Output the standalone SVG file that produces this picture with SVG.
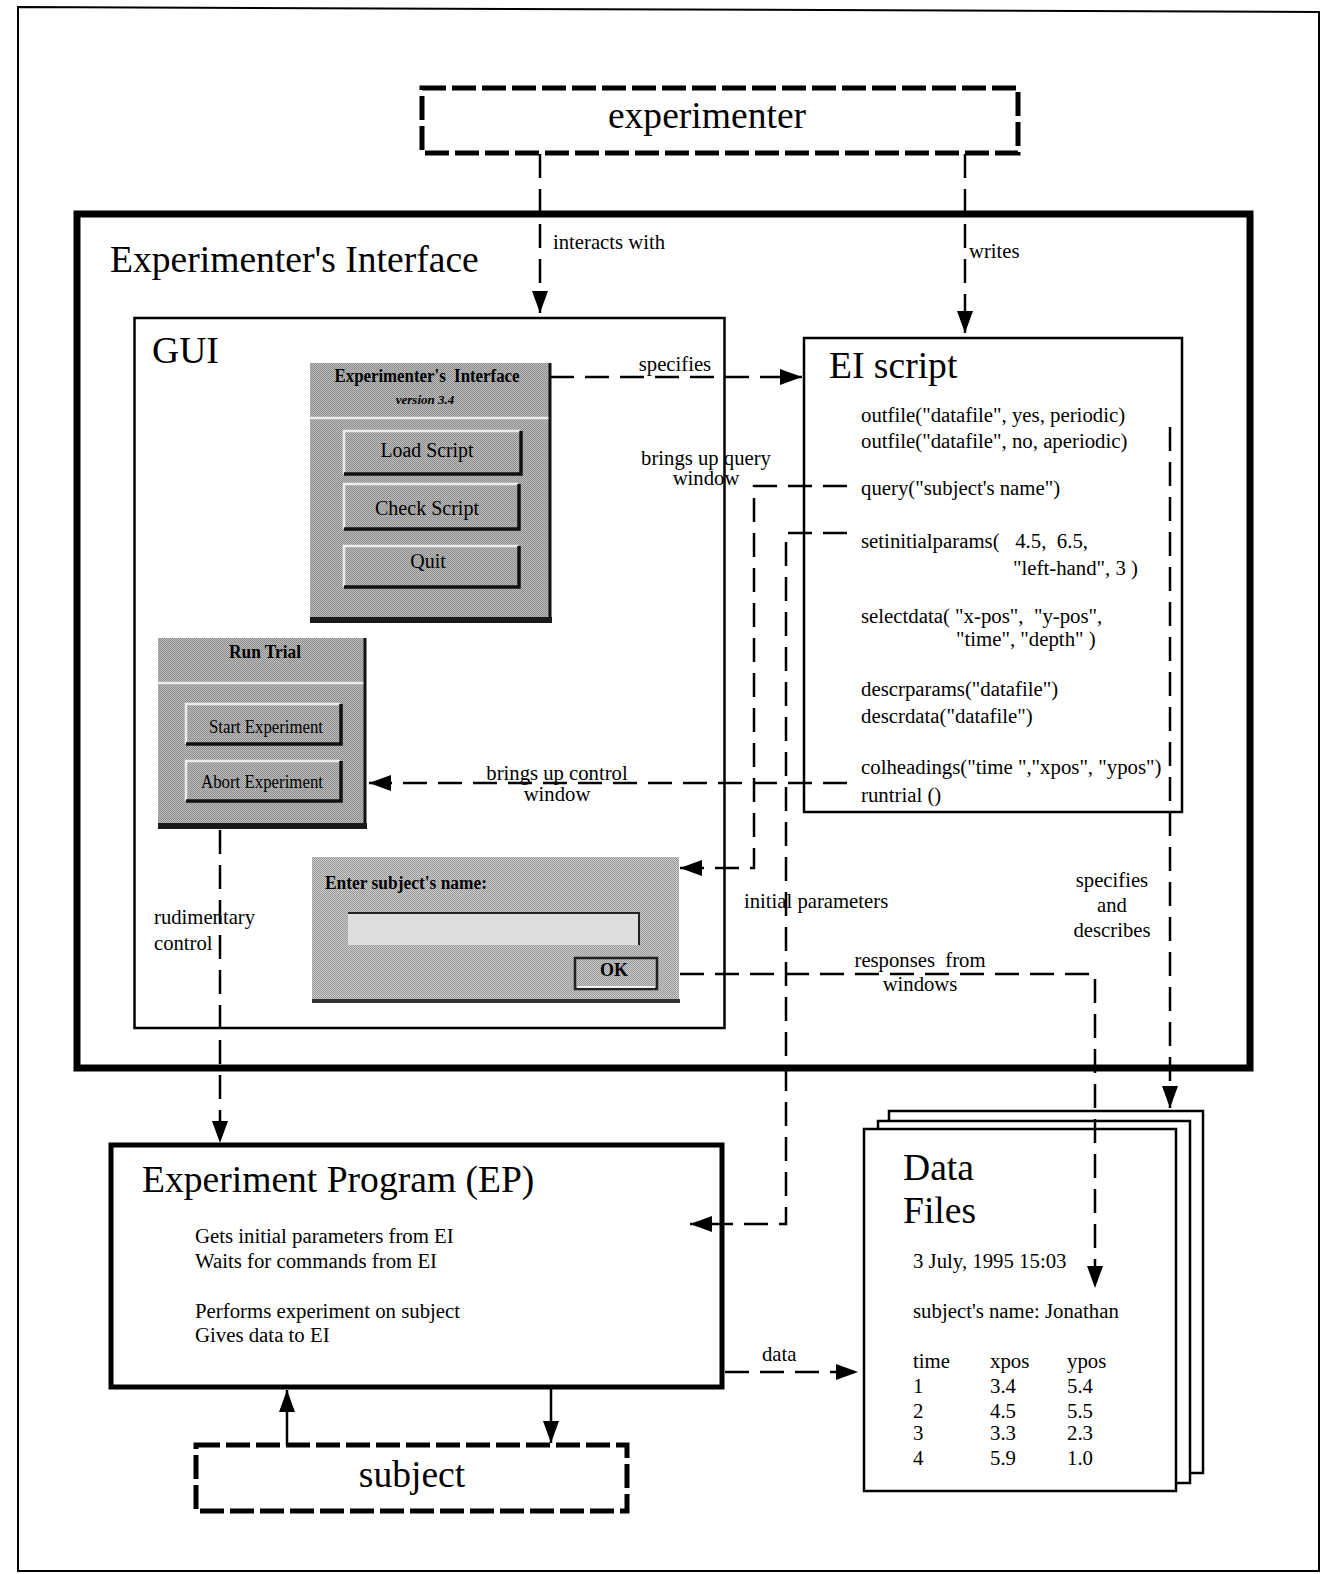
<svg xmlns="http://www.w3.org/2000/svg" width="1325" height="1574" viewBox="0 0 1325 1574">
<defs>
<style>
.t{font-family:"Liberation Serif","Times New Roman",serif;fill:#000}
.title{font-size:37.6px}
.lbl{font-size:20.7px}
.code{font-size:20.8px}
.wb{font-weight:bold}
.dash{fill:none;stroke:#000;stroke-width:2.5;stroke-dasharray:24 11}
.solid{fill:none;stroke:#000;stroke-width:2.5}
.box{fill:#fff;stroke:#000;stroke-width:2.5}
.thick{fill:none;stroke:#000;stroke-width:7}
.ep{fill:#fff;stroke:#000;stroke-width:5}
.actor{fill:#fff;stroke:#000;stroke-width:5;stroke-dasharray:24 6}
.win{fill:url(#dither)}
.winl{fill:url(#ditherL)}
.hl{stroke:#ececec;stroke-width:2.5;fill:none}
.sh{stroke:#111;stroke-width:3.5;fill:none}
</style>
<pattern id="dither" width="2" height="2" patternUnits="userSpaceOnUse">
<rect width="2" height="2" fill="#bdbdbd"/><rect width="1" height="1" fill="#8c8c8c"/><rect x="1" y="1" width="1" height="1" fill="#8c8c8c"/>
</pattern>
<pattern id="ditherL" width="2" height="2" patternUnits="userSpaceOnUse">
<rect width="2" height="2" fill="#c9c9c9"/><rect width="1" height="1" fill="#9a9a9a"/><rect x="1" y="1" width="1" height="1" fill="#9a9a9a"/>
</pattern>
<marker id="ah" markerUnits="userSpaceOnUse" markerWidth="22" markerHeight="16" refX="22" refY="8" orient="auto">
<path d="M0,0 L22,8 L0,16 Z" fill="#000"/>
</marker>
</defs>
<rect width="1325" height="1574" fill="#fff"/>
<path d="M18,7 L1319,12 L1319,1571 L18,1571 Z" fill="none" stroke="#000" stroke-width="2"/>

<g id="experimenter">
<rect class="actor" x="422" y="88" width="596" height="65"/>
<text class="t title" x="707" y="128" text-anchor="middle">experimenter</text>
</g>

<g id="experimenters-interface">
<rect class="thick" x="77" y="214" width="1173" height="854"/>
<text class="t title" x="110" y="272">Experimenter's Interface</text>
</g>

<g id="gui">
<rect class="box" x="134.5" y="318" width="590" height="710"/>
<text class="t title" x="152" y="363">GUI</text>
</g>

<g id="ei-window">
<rect class="win" x="310" y="363" width="240" height="258"/>
<line class="hl" x1="310" y1="418" x2="549" y2="418"/>
<line x1="550" y1="363" x2="550" y2="623" stroke="#111" stroke-width="3"/>
<rect x="310" y="617" width="242" height="6" fill="#1a1a1a"/>
<text class="t wb" x="427" y="382" font-size="18.5" text-anchor="middle" textLength="185" lengthAdjust="spacingAndGlyphs" xml:space="preserve">Experimenter's  Interface</text>
<text class="t" x="425" y="404" font-size="13" font-style="italic" font-weight="bold" text-anchor="middle">version 3.4</text>
<g id="btn-load">
<path class="hl" d="M344,474 V431 H520"/>
<path class="sh" d="M344,474 H521 V431"/>
<text class="t" x="427" y="457" font-size="20" text-anchor="middle" textLength="93" lengthAdjust="spacingAndGlyphs">Load Script</text>
</g>
<g id="btn-check">
<path class="hl" d="M344,529 V484 H518"/>
<path class="sh" d="M344,529 H519 V484"/>
<text class="t" x="427" y="515" font-size="20" text-anchor="middle" textLength="104" lengthAdjust="spacingAndGlyphs">Check Script</text>
</g>
<g id="btn-quit">
<path class="hl" d="M344,587 V546 H518"/>
<path class="sh" d="M344,587 H519 V546"/>
<text class="t" x="428" y="568" font-size="20" text-anchor="middle">Quit</text>
</g>
</g>

<g id="run-trial-window">
<rect class="win" x="158" y="638" width="208" height="190"/>
<line class="hl" x1="158" y1="683" x2="364" y2="683"/>
<line x1="365" y1="638" x2="365" y2="829" stroke="#111" stroke-width="3"/>
<rect x="158" y="823" width="209" height="6" fill="#1a1a1a"/>
<text class="t wb" x="265" y="658" font-size="18" text-anchor="middle" textLength="72" lengthAdjust="spacingAndGlyphs">Run Trial</text>
<g id="btn-start">
<path class="hl" d="M186,744 V704 H340"/>
<path class="sh" d="M186,744 H341 V704"/>
<text class="t" x="266" y="733" font-size="19" text-anchor="middle" textLength="114" lengthAdjust="spacingAndGlyphs">Start Experiment</text>
</g>
<g id="btn-abort">
<path class="hl" d="M186,801 V761 H340"/>
<path class="sh" d="M186,801 H341 V761"/>
<text class="t" x="262" y="788" font-size="19" text-anchor="middle" textLength="122" lengthAdjust="spacingAndGlyphs">Abort Experiment</text>
</g>
</g>

<g id="query-window">
<rect class="winl" x="312" y="857" width="367" height="146"/>
<rect x="312" y="999" width="368" height="4" fill="#333"/>
<text class="t wb" x="325" y="889" font-size="18" textLength="162" lengthAdjust="spacingAndGlyphs">Enter subject's name:</text>
<rect x="348" y="912" width="292" height="33" fill="#dedede"/>
<path d="M348,913 H639 V945" fill="none" stroke="#222" stroke-width="2"/>
<rect x="575" y="958" width="82" height="31" fill="none" stroke="#222" stroke-width="2.5"/>
<path d="M577,987 H655" stroke="#eee" stroke-width="2" fill="none"/>
<text class="t wb" x="614" y="976" font-size="18" text-anchor="middle">OK</text>
</g>

<g id="ei-script">
<rect class="box" x="804" y="338" width="378" height="474"/>
<text class="t title" x="829" y="378">EI script</text>
<g class="t code">
<text x="861" y="422">outfile("datafile", yes, periodic)</text>
<text x="861" y="448">outfile("datafile", no, aperiodic)</text>
<text x="861" y="495">query("subject's name")</text>
<text x="861" y="548" xml:space="preserve">setinitialparams(   4.5,  6.5,</text>
<text x="1013" y="575">"left-hand", 3 )</text>
<text x="861" y="623" xml:space="preserve">selectdata( "x-pos",  "y-pos",</text>
<text x="956" y="646">"time", "depth" )</text>
<text x="861" y="696">descrparams("datafile")</text>
<text x="861" y="723">descrdata("datafile")</text>
<text x="861" y="774">colheadings("time ","xpos", "ypos")</text>
<text x="861" y="802">runtrial ()</text>
</g>
</g>

<g id="experiment-program">
<rect class="ep" x="111" y="1145" width="611" height="242"/>
<text class="t title" x="142" y="1192">Experiment Program (EP)</text>
<g class="t code">
<text x="195" y="1243">Gets initial parameters from EI</text>
<text x="195" y="1268">Waits for commands from EI</text>
<text x="195" y="1318">Performs experiment on subject</text>
<text x="195" y="1342">Gives data to EI</text>
</g>
</g>

<g id="subject">
<rect class="actor" x="196" y="1445" width="431" height="66"/>
<text class="t title" x="412" y="1487" text-anchor="middle">subject</text>
</g>

<g id="data-files">
<rect class="box" x="889" y="1111" width="314" height="362"/>
<rect class="box" x="878" y="1121" width="312" height="362"/>
<rect class="box" x="864" y="1129" width="312" height="362"/>
<text class="t title" x="903" y="1180">Data</text>
<text class="t title" x="903" y="1223">Files</text>
<g class="t code">
<text x="913" y="1268">3 July, 1995 15:03</text>
<text x="913" y="1318">subject's name: Jonathan</text>
<text x="913" y="1368">time</text><text x="990" y="1368">xpos</text><text x="1067" y="1368">ypos</text>
<text x="913" y="1393">1</text><text x="990" y="1393">3.4</text><text x="1067" y="1393">5.4</text>
<text x="913" y="1418">2</text><text x="990" y="1418">4.5</text><text x="1067" y="1418">5.5</text>
<text x="913" y="1440">3</text><text x="990" y="1440">3.3</text><text x="1067" y="1440">2.3</text>
<text x="913" y="1465">4</text><text x="990" y="1465">5.9</text><text x="1067" y="1465">1.0</text>
</g>
</g>

<g id="connectors">
<path id="c-interacts" class="dash" d="M540,154 V313" marker-end="url(#ah)"/>
<path id="c-writes" class="dash" d="M965,154 V333" marker-end="url(#ah)"/>
<path id="c-specifies" class="dash" d="M550,377 H802" marker-end="url(#ah)"/>
<path id="c-query" class="dash" d="M847,486 H754 V868 H680" marker-end="url(#ah)"/>
<path id="c-initial" class="dash" d="M847,533 H786 V1224 H690" marker-end="url(#ah)"/>
<path id="c-control" class="dash" d="M847,783 H369" marker-end="url(#ah)"/>
<path id="c-describes" class="dash" d="M1170,427 V1108" marker-end="url(#ah)"/>
<path id="c-responses" class="dash" d="M680,974 H1095 V1288" marker-end="url(#ah)"/>
<path id="c-rudimentary" class="dash" d="M220,830 V1143" marker-end="url(#ah)"/>
<path id="c-data" class="dash" d="M725,1372 H858" marker-end="url(#ah)"/>
<path id="c-ep-subject" class="solid" d="M551,1388 V1443" marker-end="url(#ah)"/>
<path id="c-subject-ep" class="solid" d="M287,1445 V1390" marker-end="url(#ah)"/>
<g class="t lbl">
<text x="553" y="249">interacts with</text>
<text x="969" y="258">writes</text>
<text x="675" y="371" text-anchor="middle">specifies</text>
<text x="706" y="465" text-anchor="middle">brings up query</text>
<text x="706" y="485" text-anchor="middle">window</text>
<text x="557" y="780" text-anchor="middle">brings up control</text>
<text x="557" y="801" text-anchor="middle">window</text>
<text x="744" y="908">initial parameters</text>
<text x="1112" y="887" text-anchor="middle">specifies</text>
<text x="1112" y="912" text-anchor="middle">and</text>
<text x="1112" y="937" text-anchor="middle">describes</text>
<text x="920" y="967" text-anchor="middle" xml:space="preserve">responses  from</text>
<text x="920" y="991" text-anchor="middle">windows</text>
<text x="154" y="924">rudimentary</text>
<text x="154" y="950">control</text>
<text x="762" y="1361">data</text>
</g>
</g>
</svg>
